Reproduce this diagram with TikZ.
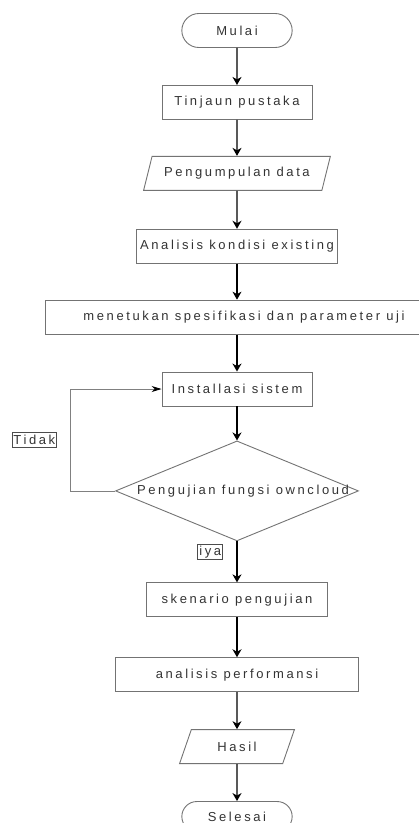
\documentclass[tikz,border=0pt]{standalone}
\usepackage{fontspec}
\setmainfont{Liberation Sans}[LetterSpace=20]
\usepackage{tikz}
\usetikzlibrary{arrows.meta,positioning,shapes.geometric,shapes.misc,calc}

\begin{document}
\begin{tikzpicture}[->,>={Stealth[length=8pt,width=9pt,inset=2.5pt]},
                    x=1pt,y=-1pt,node distance=37pt,line width=1.3pt]
\tikzstyle{every node}=[font=\fontsize{13pt}{15pt}\selectfont,text=black!80]
\tikzstyle{terminal}=[rounded rectangle,draw=black!55,line width=0.9pt,
                      minimum width=117pt,minimum height=34pt]
\tikzstyle{proses}=[rectangle,draw=black!55,line width=0.9pt,minimum height=34pt]
\tikzstyle{data}=[trapezium,trapezium stretches=true,draw=black!55,line width=0.9pt,
                  minimum height=34pt,trapezium left angle=68,trapezium right angle=112]
\tikzstyle{keputusan}=[diamond,draw=black!55,line width=0.9pt,
                       minimum width=243pt,minimum height=100pt,inner sep=0pt]
\tikzstyle{jawab}=[rectangle,draw=black!70,line width=0.7pt,inner sep=1.5pt,
                   minimum height=15pt]
\useasboundingbox (0,0) rectangle (419,823);

\node[terminal] (MULAI) at (237,30.5) {Mulai};
\node[proses,minimum width=150pt] (TINJAU) [below=37pt of MULAI] {Tinjaun pustaka};
\node[data,minimum width=187pt] (KUMPUL) [below=36pt of TINJAU] {Pengumpulan data};
\node[proses,minimum width=195pt] (ANALISIS) [below=38pt of KUMPUL] {Analisis kondisi existing};
\node[proses,minimum width=398pt] (SPEK) [below=36pt of ANALISIS,xshift=7pt]
     {menetukan spesifikasi dan parameter uji};
\node[proses,minimum width=150pt] (INSTAL) [below=37pt of SPEK,xshift=-7pt] {Installasi sistem};
\node[keputusan] (UJI) [below=34pt of INSTAL]
     {} ;
\node[] (UJITEKS) at ([xshift=6pt]UJI.center) {Pengujian fungsi owncloud};
\node[proses,minimum width=181pt] (SKENARIO) [below=41pt of UJI] {skenario pengujian};
\node[proses,minimum width=243pt] (PERFORM) [below=40pt of SKENARIO] {analisis performansi};
\node[data,minimum width=115pt,trapezium left angle=70,trapezium right angle=110]
     (HASIL) [below=37pt of PERFORM] {Hasil};
\node[terminal,minimum height=30pt] (SELESAI) [below=37pt of HASIL] {Selesai};

% jalur kembali
\coordinate (LOOP) at ([xshift=-45pt]UJI.west);
\coordinate (TENGAH) at ($(LOOP)!0.5!(LOOP |- INSTAL)$);
\node[jawab] (TIDAK) [left=13pt of TENGAH] {Tidak};
\node[jawab] (IYA) [below left=3pt and 14pt of UJI.south] {iya};

\path (MULAI) edge (TINJAU)
      (TINJAU) edge (KUMPUL)
      (KUMPUL) edge (ANALISIS)
      (ANALISIS.south) edge (ANALISIS.south |- SPEK.north)
      (SPEK.south -| INSTAL) edge (INSTAL)
      (INSTAL) edge (UJI)
      (UJI) edge (SKENARIO)
      (SKENARIO) edge (PERFORM)
      (PERFORM) edge (HASIL)
      (HASIL) edge (SELESAI);
\draw[-{Stealth[length=10pt,width=6pt,color=black]},draw=black!50,line width=0.8pt]
      (UJI.west) -- (LOOP) |- (INSTAL.west);
\end{tikzpicture}
\end{document}
